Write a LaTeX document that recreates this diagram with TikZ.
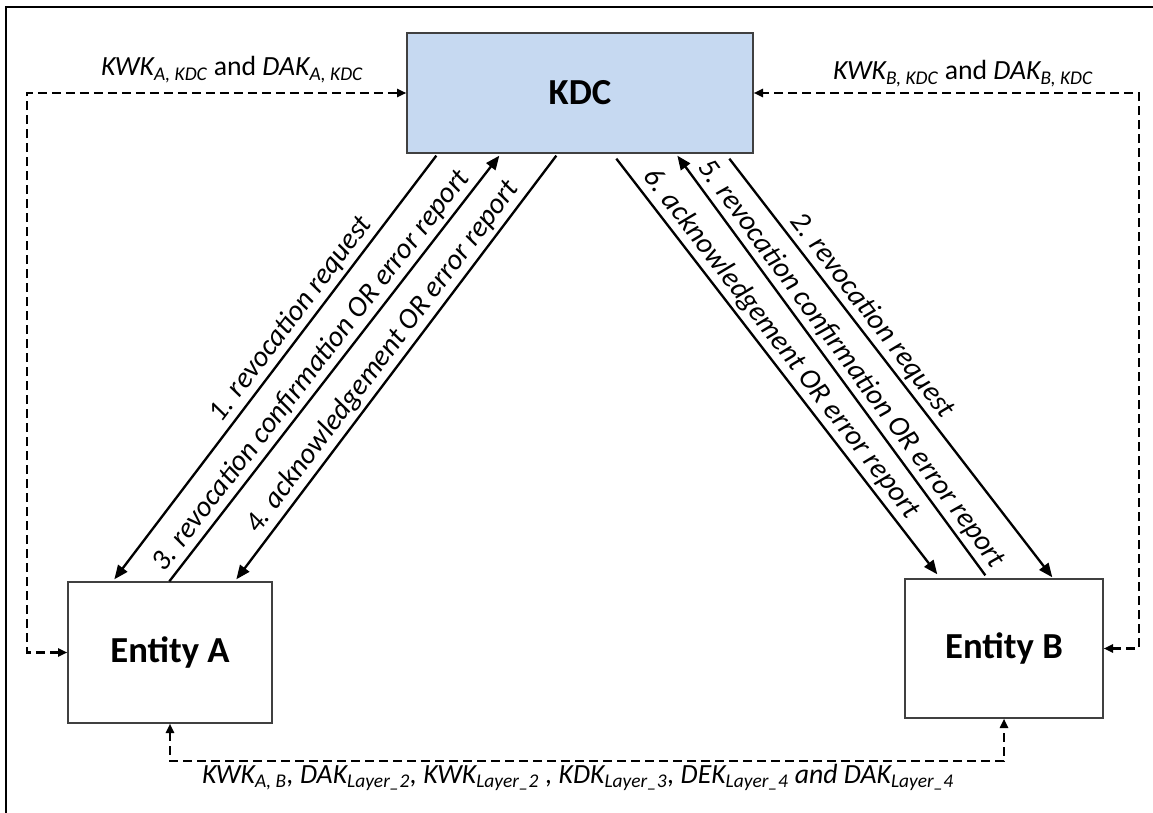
\documentclass[tikz,border=0pt]{standalone}
\usepackage{fontspec}
\setmainfont{Carlito}
\usetikzlibrary{arrows.meta,calc}
\definecolor{kdcfill}{RGB}{198,217,241}
\definecolor{boxline}{RGB}{64,64,64}
\newcommand\sbs[1]{\textsubscript{#1}}
\begin{document}
\begin{tikzpicture}[x=0.75pt,y=-0.75pt,
  box/.style={draw=boxline, line width=1pt, inner sep=0pt,
    font=\fontsize{27.5}{30}\selectfont\bfseries},
  solidarr/.style={line width=1.75pt, -{Triangle[length=10.5pt,width=8.5pt]}},
  darr/.style={line width=1.9pt, dash pattern=on 6.5pt off 4pt,
    {Triangle[length=7pt,width=6pt]}-{Triangle[length=7pt,width=6pt]}},
  lbl/.style={sloped, above=2.5pt, inner sep=0pt, font=\fontsize{21.8}{24}\selectfont\itshape},
  toplbl/.style={anchor=base, inner sep=0pt, font=\fontsize{20.8}{24}\selectfont\itshape}]
\useasboundingbox (0,0) rectangle (1153,813);
\draw[line width=1.5pt] (6,820) -- (6,7) -- (1160,7);

\node[box, fill=kdcfill, minimum width=259.5pt, minimum height=90pt] (KDC) at (580,93) {KDC};
\node[box, fill=white, minimum width=153pt, minimum height=105.75pt] (A) at (170,652.5) {Entity A};
\node[box, fill=white, minimum width=148.5pt, minimum height=104.25pt] (B) at (1004,648.5) {Entity B};

% solid message arrows
\draw[solidarr] ($(KDC.south west)+(30,2)$) -- node[lbl,pos=0.41] {1. revocation request} ($(A.north west)+(47,-2)$);
\draw[solidarr] ($(A.north west)+(102,0)$) -- node[lbl,pos=0.47] {3. revocation confirmation OR error report} ($(KDC.south west)+(93,2)$);
\draw[solidarr] ($(KDC.south west)+(150,2)$) -- node[lbl,pos=0.5] {4. acknowledgement OR error report} ($(A.north west)+(169,-2)$);
\draw[solidarr] ($(KDC.south west)+(210,5)$) -- node[lbl,pos=0.47] {6. acknowledgement OR error report} ($(B.north west)+(33,-4)$);
\draw[solidarr] ($(B.north west)+(81,-3)$) -- node[lbl,pos=0.48] {5. revocation confirmation OR error report} ($(KDC.south west)+(271,2)$);
\draw[solidarr] ($(KDC.south west)+(323,5)$) -- node[lbl,pos=0.40] {2. revocation request} ($(B.north west)+(148,-1)$);

% dashed key distribution connectors
\coordinate (cl) at (27,400);
\coordinate (cr) at (1139,400);
\coordinate (cb) at (600,761);
\draw[darr] (A.west) -| (cl) |- (KDC.west);
\draw[darr] (B.east) -| (cr) |- (KDC.east);
\draw[darr] (A.south) |- (cb) -| (B.south);

\node[toplbl] (la) at (232,76) {KWK\sbs{A, KDC} \textup{and} DAK\sbs{A, KDC}};
\node[toplbl] (lb) at (963,80) {KWK\sbs{B, KDC} \textup{and} DAK\sbs{B, KDC}};
\node[toplbl] (lc) at (578,783) {KWK\sbs{A, B}, DAK\sbs{Layer\_2}, KWK\sbs{Layer\_2} , KDK\sbs{Layer\_3}, DEK\sbs{Layer\_4} and DAK\sbs{Layer\_4}};
\end{tikzpicture}
\end{document}
